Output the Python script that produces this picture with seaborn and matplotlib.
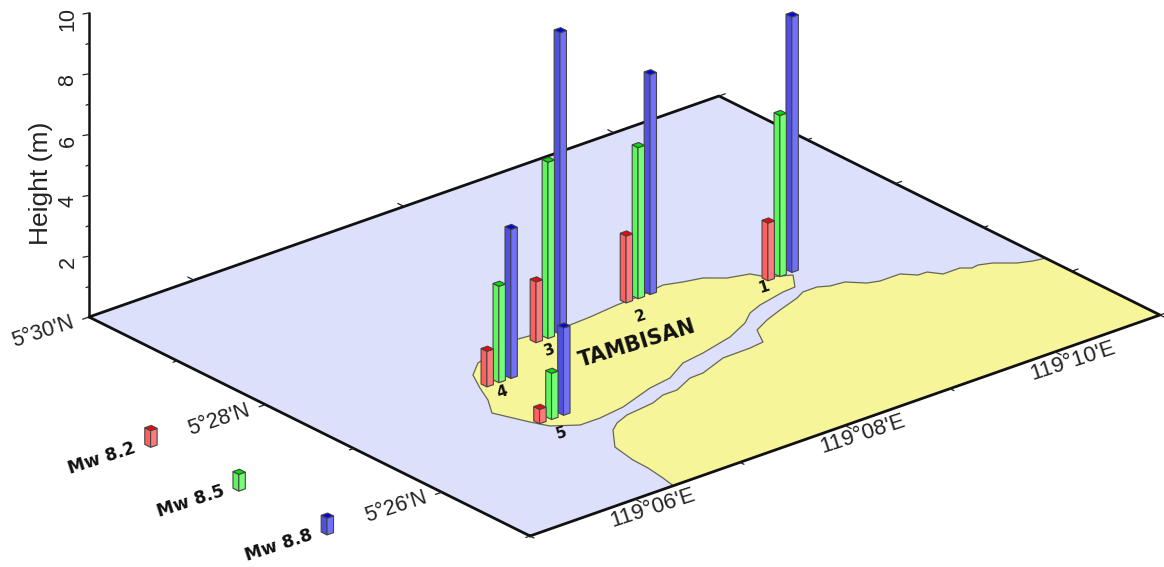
import numpy as np
import pandas as pd
import matplotlib
matplotlib.use("Agg")
import matplotlib.pyplot as plt
import seaborn as sns

# minutes past 119 deg E / 5 deg N
lon_min, lon_max = 5, 11
lat_min, lat_max = 25, 30

island_lon = [7.147, 7.594, 7.796, 8.082, 8.311, 8.563, 8.709, 8.866, 8.999, 9.173, 9.234, 9.401, 9.277, 9.154,
              8.880, 8.734, 8.594, 8.353, 8.023, 7.798, 7.557, 7.333, 6.969, 6.717, 6.527, 6.348, 6.281, 6.231,
              6.170, 6.294, 6.384, 6.491, 6.654, 6.873]
island_lat = [27.692, 27.635, 27.648, 27.683, 27.695, 27.734, 27.681, 27.640, 27.527, 27.473, 27.353, 27.257, 27.088, 27.077,
              27.011, 26.951, 26.841, 26.724, 26.637, 26.597, 26.457, 26.417, 26.289, 26.250, 26.250, 26.378, 26.525, 26.659,
              26.824, 27.017, 27.215, 27.422, 27.559, 27.626]

main_lon = [6.365, 6.394, 6.423, 6.429, 6.474, 6.654, 6.756, 6.901, 7.181, 7.327, 7.461, 7.669, 7.798, 8.078, 8.341,
            8.480, 8.582, 8.751, 8.935, 9.165, 9.266, 9.400, 9.484, 9.613, 9.724, 9.819, 10.010, 10.098, 10.183, 10.250,
            10.412, 10.479, 10.546, 10.652, 10.786, 10.898, 11.0, 11.0]
main_lat = [25.0, 25.152, 25.356, 25.534, 25.792, 26.028, 26.104, 26.164, 26.203, 26.263, 26.263, 26.363, 26.369, 26.476, 26.482,
            26.502, 26.690, 26.778, 26.850, 26.931, 26.984, 26.985, 26.937, 26.920, 26.803, 26.769, 26.769, 26.671, 26.668, 26.567,
            26.568, 26.511, 26.523, 26.480, 26.367, 26.319, 26.298, 25.0]

# survey sites, position of the middle bar
site_lon = [9.34, 8.30, 7.35, 6.58, 6.46]
site_lat = [27.33, 27.70, 27.59, 27.23, 26.49]
site_names = ["1", "2", "3", "4", "5"]
name_lon = [9.104, 8.087, 7.202, 6.462, 6.331]
name_lat = [27.234, 27.428, 27.395, 27.058, 26.232]

# heights in metres
h_82 = [1.9, 2.2, 2.0, 1.17, 0.47]
h_85 = [5.3, 4.97, 5.8, 3.17, 1.52]
h_88 = [8.4, 7.23, 9.92, 4.9, 2.87]

scenarios = ["Mw 8.2", "Mw 8.5", "Mw 8.8"]
legend_lat = [28, 27, 26]
legend_h = [0.55, 0.55, 0.55]

height_ticks = [2, 4, 6, 8, 10]
lat_labels = {30: "5°30'N", 28: "5°28'N", 26: "5°26'N"}
lon_labels = {6: "119°06'E", 8: "119°08'E", 10: "119°10'E"}


def proj(lon, lat, z=0.0):
    lon = np.asarray(lon, dtype=float)
    lat = np.asarray(lat, dtype=float)
    z = np.asarray(z, dtype=float)
    u = (lon - lon_min) / (lon_max - lon_min)
    v = (lat - lat_min) / (lat_max - lat_min)
    return 530 + 630 * u - 441 * v, 536 - 221 * u - 219 * v - 30.4 * z


sns.set_theme(style="white")
plt.rcParams["font.family"] = ["Liberation Sans", "DejaVu Sans"]

top_cols = sns.color_palette(["#ff0000", "#00e000", "#0000e6"])
left_cols = sns.color_palette(["#ff5f5f", "#5cf55c", "#5050e0"])
right_cols = sns.color_palette(["#ff7a7a", "#74ff74", "#7070fa"])

fig = plt.figure(figsize=(11.64, 5.67), dpi=100)
ax = fig.add_axes([0, 0, 1, 1])
ax.set_xlim(0, 1164)
ax.set_ylim(567, 0)
ax.axis("off")

# map plane
corner_lon = [lon_min, lon_max, lon_max, lon_min]
corner_lat = [lat_min, lat_min, lat_max, lat_max]
ax.fill(*proj(corner_lon, corner_lat), color="#dce0fb", lw=0, zorder=1)
ax.fill(*proj(island_lon, island_lat), facecolor="#f7f59a", edgecolor="#666655", lw=0.9, zorder=2)
x_main, y_main = proj(main_lon, main_lat)
ax.fill(x_main, y_main, color="#f7f59a", lw=0, zorder=2)
ax.plot(x_main[:-1], y_main[:-1], color="#666655", lw=0.9, zorder=2)

# frame
frame = pd.DataFrame({"x": proj(corner_lon + corner_lon[:1], corner_lat + corner_lat[:1])[0],
                      "y": proj(corner_lon + corner_lon[:1], corner_lat + corner_lat[:1])[1]})
sns.lineplot(data=frame, x="x", y="y", sort=False, estimator=None, color="#111111", lw=2.0, ax=ax, zorder=3)
ax.set_xlim(0, 1164)
ax.set_ylim(567, 0)
ax.axis("off")


def tick(lon, lat, dlon, dlat):
    x, y = proj([lon, lon + dlon], [lat, lat + dlat])
    ax.plot(x, y, color="#222222", lw=0.9, zorder=3)


for m in range(lon_min, lon_max + 1):
    size = 0.07 if m % 2 == 0 else 0.045
    tick(m, lat_min, 0, -size)
    if m % 2 == 0:
        tick(m, lat_max, 0, size)
for m in range(lat_min, lat_max + 1):
    size = 0.06 if m % 2 == 0 else 0.04
    tick(lon_min, m, -size, 0)
    tick(lon_max, m, size, 0)

# height axis
x0, y0 = proj(lon_min, lat_max)
ztop = proj(lon_min, lat_max, 10)
ax.plot([x0, ztop[0]], [y0, ztop[1]], color="#111111", lw=1.8, zorder=3)
for h in range(1, 11):
    xt, yt = proj(lon_min, lat_max, h)
    ax.plot([xt - (6 if h % 2 == 0 else 3), xt], [yt + 1, yt], color="#222222", lw=0.9, zorder=3)
for h in height_ticks:
    xt, yt = proj(lon_min, lat_max, h)
    ax.text(xt - 21, yt + 6, str(h), rotation=90, ha="center", va="center", fontsize=15.5, color="#222222")
ax.text(41, 183, "Height (m)", rotation=90, ha="center", va="center", fontsize=19, color="#222222")

# axis labels
for m, txt in lat_labels.items():
    xt, yt = proj(lon_min, m)
    ax.text(xt - 46, yt + 15, txt, rotation=18, rotation_mode="anchor", ha="center", va="center",
            fontsize=15.5, color="#222222")
for m, txt in lon_labels.items():
    xt, yt = proj(m, lat_min)
    ax.text(xt + 18, yt + 9, txt, rotation=18, rotation_mode="anchor", ha="center", va="center",
            fontsize=16, color="#222222")


def draw_bar(lon, lat, h, i):
    a, b = 0.031, 0.033
    xl, yl = proj(lon - a, lat + b)
    xf, yf = proj(lon - a, lat - b)
    xr, yr = proj(lon + a, lat - b)
    xb, yb = proj(lon + a, lat + b)
    dz = 30.4 * h
    z = 10 + yf / 1000
    edge = "#444444"
    ax.fill([xl, xf, xf, xl], [yl, yf, yf - dz, yl - dz], facecolor=left_cols[i], edgecolor=edge, lw=0.8, zorder=z)
    ax.fill([xf, xr, xr, xf], [yf, yr, yr - dz, yf - dz], facecolor=right_cols[i], edgecolor=edge, lw=0.8, zorder=z)
    ax.fill([xl, xf, xr, xb], [yl - dz, yf - dz, yr - dz, yb - dz], facecolor=top_cols[i], edgecolor=edge, lw=0.8, zorder=z)


# three bars per site stepped along longitude
for s in range(len(site_lon)):
    for i, h in enumerate([h_82[s], h_85[s], h_88[s]]):
        draw_bar(site_lon[s] + (i - 1) * 0.114, site_lat[s], h, i)

for s, name in enumerate(site_names):
    xt, yt = proj(name_lon[s], name_lat[s])
    ax.text(xt, yt, name, rotation=18, ha="center", va="center", fontsize=11, fontweight="bold",
            family="DejaVu Sans", color="#111111", zorder=5)
xt, yt = proj(7.766, 27.08)
ax.text(xt, yt, "TAMBISAN", rotation=17, ha="center", va="center", fontsize=15, fontweight="bold",
        family="DejaVu Sans", color="#111111", zorder=5)

# legend
for i, name in enumerate(scenarios):
    draw_bar(3.91, legend_lat[i], legend_h[i], i)
    xt, yt = proj(3.488, legend_lat[i] + 0.05)
    ax.text(xt, yt, name, rotation=18, ha="center", va="center", fontsize=12.5, fontweight="bold",
            family="DejaVu Sans", color="#111111")

fig.savefig("out.png", dpi=100)
